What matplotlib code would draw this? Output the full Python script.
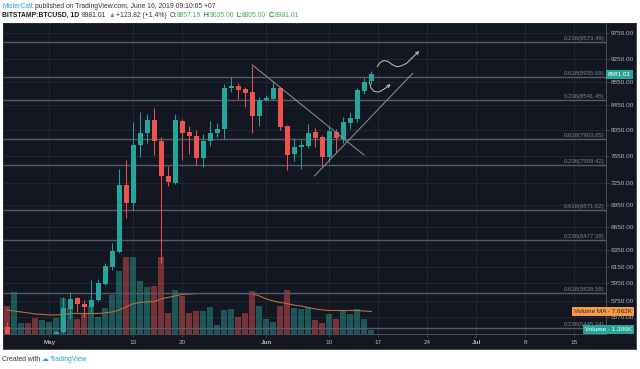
import matplotlib
matplotlib.use("Agg")
import matplotlib.pyplot as plt
import matplotlib.dates as mdates
from matplotlib.ticker import NullLocator
import numpy as np
import pandas as pd

plt.rcParams["font.family"] = ["Liberation Sans", "DejaVu Sans"]

# ---- data (BITSTAMP:BTCUSD daily) ----
dates = pd.date_range("2019-04-25", "2019-06-16", freq="D")
opens = [5464, 5200, 5270, 5285, 5260, 5210,
         5330, 5370, 5410, 5658, 5778, 5717, 5683, 5759, 5943, 6142,
         6334, 7223, 6967, 7815, 7997, 8210, 7881, 7357, 7256, 8198,
         8013, 7955, 7622, 7881, 7997, 8065, 8739, 8778, 8727, 8670, 8280,
         8544, 8557, 8739, 8113, 7673, 7779, 7800, 8013, 7935, 7628,
         8023, 7908, 8166, 8226, 8697, 8857.19]
highs = [5518, 5330, 5300, 5310, 5270, 5350,
         5380, 5420, 5790, 5847, 5796, 5759, 5990, 5998, 6190, 6439,
         7454, 7587, 8172, 8345, 8302, 8400, 7944, 7499, 8307, 8230,
         8118, 8050, 7986, 8193, 8156, 8813, 8941, 8825, 8766, 9137, 8595,
         8624, 8865, 8766, 8130, 7928, 7892, 8140, 8076, 7971, 8102,
         8061, 8263, 8345, 8739, 8913, 9035.00]
lows = [5120, 5150, 5240, 5240, 5160, 5200,
        5320, 5360, 5400, 5544, 5628, 5573, 5628, 5745, 5935, 6109,
        6320, 6764, 6876, 7637, 7850, 7662, 6190, 7208, 7235, 7587,
        7677, 7513, 7479, 7800, 7944, 7903, 8670, 8552, 8427, 8007, 8118,
        8522, 8539, 8050, 7439, 7573, 7450, 7764, 7779, 7499, 7562,
        7712, 7841, 8061, 8182, 8641, 8805.00]
closes = [5200, 5270, 5285, 5260, 5210, 5330,
          5370, 5410, 5666, 5770, 5713, 5683, 5759, 5951, 6161, 6346,
          7223, 6967, 7815, 7997, 8210, 7881, 7352, 7261, 8210, 8007,
          7955, 7622, 7881, 7997, 8070, 8739, 8778, 8715, 8658, 8280, 8539,
          8568, 8739, 8102, 7662, 7789, 7815, 8007, 7928, 7628, 8034,
          7919, 8182, 8247, 8709, 8853, 8981.01]
volumes_k = [9.5, 14.3, 3.7, 3.7, 5.4, 4.8,
             4.0, 5.6, 12.1, 8.7, 5.0, 7.1, 9.5, 5.9, 8.7, 13.2,
             21.4, 25.9, 25.9, 18.0, 15.8, 16.2, 26.1, 7.3, 14.9, 12.9,
             7.3, 7.9, 7.9, 9.1, 3.2, 8.2, 8.5, 5.7, 7.3, 14.5, 9.6,
             5.0, 4.2, 9.6, 14.9, 8.9, 8.4, 9.1, 4.8, 3.9, 6.9,
             5.2, 8.2, 6.9, 8.4, 5.1, 1.306]
volume_ma_k = [8.2, 7.8, 7.5, 7.2, 6.8, 6.7,
               6.5, 6.5, 6.7, 7.0, 7.0, 7.0, 7.0, 7.0, 7.2, 7.5,
               8.2, 9.2, 10.3, 10.7, 10.9, 11.0, 11.9, 12.4, 12.9, 13.4,
               13.5, 13.7, 13.7, 13.7, 13.7, 13.7, 13.7, 13.7, 13.7, 13.6, 12.9,
               11.9, 11.2, 10.7, 10.3, 9.8, 9.5, 9.0, 8.5, 8.2, 8.0,
               8.0, 8.0, 8.0, 8.0, 7.8, 7.662]

price_ticks = [9750, 9250, 8850, 8450, 8050, 7650, 7250, 6950, 6650,
               6350, 6150, 5950, 5750, 5570]
tick_dates = ["2019-05-01", "2019-05-13", "2019-05-20", "2019-06-01", "2019-06-10",
              "2019-06-17", "2019-06-24", "2019-07-01", "2019-07-08", "2019-07-15"]
tick_labels = ["May", "13", "20", "Jun", "10", "17", "24", "Jul", "8", "15"]

fib_ratios = ["0.236", "0.618", "0.236", "0.618", "0.236", "0.618", "0.236", "0.618", "0.236"]
fib_prices = [9573.49, 8935.69, 8541.45, 7903.65, 7509.42, 6871.62, 6477.38, 5839.58, 5445.34]

# hand drawn lines: timestamps / prices
down_line_t = ["2019-05-30 00:00", "2019-06-14 23:00"]
down_line_p = [9150, 7662]
up_line_t = ["2019-06-07 21:00", "2019-06-21 22:00"]
up_line_p = [7352, 9000]
# curvy arrows: days after May 1 / prices
wave_days = [46.86, 47.24, 47.81, 48.39, 48.96, 49.63, 50.24, 51.06, 51.81, 52.86]
wave_p = [9118, 9194, 9230, 9213, 9158, 9118, 9131, 9180, 9276, 9405]
hook_days = [45.71, 45.96, 46.39, 47.1, 47.96, 48.77]
hook_p = [8853, 8744, 8683, 8675, 8735, 8808]

# ---- styling ----
BG = "#131722"
GRID = "#222632"
UP = "#26a69a"
DOWN = "#ef5350"
AXTXT = "#b2b5be"
W, H = 640, 369
VOL_TOP_K = 104.6  # volume pane scale (volume at top of pane)


def frac(x0, y0, x1, y1):
    return [x0 / W, 1 - y1 / H, (x1 - x0) / W, (y1 - y0) / H]


fig = plt.figure(figsize=(6.4, 3.69), dpi=100)
fig.patch.set_facecolor("white")

bg = fig.add_axes(frac(3, 23, 636, 349))
bg.set_facecolor(BG)
bg.set_xticks([])
bg.set_yticks([])
for s in bg.spines.values():
    s.set_color("#2a2e39")
    s.set_linewidth(0.6)

ax = fig.add_axes(frac(3, 23, 606, 334.3))
ax.patch.set_alpha(0)
ax.set_yscale("log")

x = mdates.date2num(dates.to_numpy())
base = mdates.date2num(pd.Timestamp("2019-05-01"))
opens, highs, lows, closes = map(np.array, (opens, highs, lows, closes))
up = closes >= opens
colors = np.where(up, UP, DOWN)

# grid
xt = mdates.date2num(pd.to_datetime(tick_dates).to_numpy())
for p in price_ticks:
    ax.axhline(p, color=GRID, lw=0.8, zorder=0)
for t in xt:
    ax.axvline(t, color=GRID, lw=0.8, zorder=0)

# volume overlay (y in axes fraction)
vtrans = ax.get_xaxis_transform()
ax.bar(x, np.array(volumes_k) / VOL_TOP_K, width=0.88, bottom=0, color=colors,
       alpha=0.45, transform=vtrans, zorder=1)
ax.plot(x, np.array(volume_ma_k) / VOL_TOP_K, color="#b0723c", lw=0.8,
        transform=vtrans, zorder=1.5)

# fibonacci levels
ytrans = ax.get_yaxis_transform()
for r, p in zip(fib_ratios, fib_prices):
    ax.axhline(p, color="#565b66", lw=1.0, zorder=2)
    ax.text(0.997, p * 1.002, f"{r}({p:.2f})", transform=ytrans, ha="right",
            va="bottom", fontsize=4.3, color="#7c808a", zorder=2)

# candles
ax.vlines(x, lows, highs, colors=colors, lw=0.7, zorder=3)
ax.bar(x, np.abs(closes - opens), bottom=np.minimum(opens, closes), width=0.68,
       color=colors, zorder=4)

# drawings
lc = "#8f929b"
ax.plot(mdates.date2num(pd.to_datetime(down_line_t).to_numpy()), down_line_p,
        color=lc, lw=0.7, zorder=5)
ax.plot(mdates.date2num(pd.to_datetime(up_line_t).to_numpy()), up_line_p,
        color=lc, lw=0.7, zorder=5)
ac = "#c9c4b2"
for days, ps in ((wave_days, wave_p), (hook_days, hook_p)):
    dx = base + np.array(days)
    ax.plot(dx[:-1], ps[:-1], color=ac, lw=0.7, zorder=5, solid_capstyle="round")
    ax.annotate("", xy=(dx[-1], ps[-1]), xytext=(dx[-2], ps[-2]),
                arrowprops=dict(arrowstyle="->", color=ac, lw=0.7,
                                mutation_scale=5, shrinkA=0, shrinkB=0), zorder=5)

# axes setup
ax.set_xlim(base - 6.61, base + 79.53)
ax.set_ylim(5382, 9938)
ax.yaxis.tick_right()
ax.yaxis.set_minor_locator(NullLocator())
ax.set_yticks(price_ticks)
ax.set_yticklabels([f"{p:.2f}" for p in price_ticks])
ax.set_xticks(xt)
ax.set_xticklabels(tick_labels)
for lab in ax.get_xticklabels():
    if lab.get_text() in ("May", "Jun", "Jul"):
        lab.set_fontweight("bold")
ax.tick_params(axis="both", colors="#4a4e59", labelcolor=AXTXT, labelsize=4.6,
               length=2, width=0.6, pad=1.5)
ax.tick_params(axis="x", pad=2.2)
for side in ("top", "left"):
    ax.spines[side].set_visible(False)
for side in ("right", "bottom"):
    ax.spines[side].set_color("#4a4e59")
    ax.spines[side].set_linewidth(0.7)

# last price label
ax.text(1.003, closes[-1], f"{closes[-1]:.2f}", transform=ytrans, ha="left",
        va="center", fontsize=4.6, color="white", zorder=10, clip_on=False,
        bbox=dict(boxstyle="square,pad=0.35", fc=UP, ec="none"))

# volume legend boxes
fig.text(632 / W, 1 - 311.7 / H, f"Volume MA - {volume_ma_k[-1]:.3f}K", ha="right",
         va="center", fontsize=4.6, color="#2a2a2a",
         bbox=dict(boxstyle="square,pad=0.35", fc="#f79a45", ec="none"))
fig.text(632 / W, 1 - 329.3 / H, f"Volume - {volumes_k[-1]:.3f}K", ha="right",
         va="center", fontsize=4.6, color="white",
         bbox=dict(boxstyle="square,pad=0.35", fc=UP, ec="none"))

# header / footer text
renderer = fig.canvas.get_renderer()


def text_row(x0, y0, parts, size=4.85):
    xp = x0
    for s, col, wt, gap in parts:
        t = fig.text(xp / W, 1 - y0 / H, s, color=col, fontsize=size, fontweight=wt,
                     ha="left", va="center")
        xp = t.get_window_extent(renderer).x1 + gap


DARK = "#333333"
GREEN = "#4caf50"
BLUE = "#2a9fd8"
text_row(2.5, 6, [("MisterCatt", BLUE, "normal", 1.6),
                  ("published on TradingView.com, June 16, 2019 09:10:05 +07", DARK, "normal", 0)])
text_row(2.5, 15.5, [("BITSTAMP:BTCUSD, 1D", "#1a1a1a", "bold", 2.2),
                     ("8981.01", DARK, "normal", 2.2),
                     ("\u25b2", GREEN, "normal", 1.2),
                     ("+123.82 (+1.4%)", DARK, "normal", 2.2),
                     ("O:", DARK, "normal", 0), ("8857.19", GREEN, "normal", 2.2),
                     ("H:", DARK, "normal", 0), ("9035.00", GREEN, "normal", 2.2),
                     ("L:", DARK, "normal", 0), ("8805.00", GREEN, "normal", 2.2),
                     ("C:", DARK, "normal", 0), ("8981.01", GREEN, "normal", 0)])
text_row(2.5, 359.5, [("Created with", DARK, "normal", 1.5),
                      ("\u2601", BLUE, "normal", 1),
                      ("TradingView", BLUE, "normal", 0)])

fig.savefig("out.png", dpi=100)
